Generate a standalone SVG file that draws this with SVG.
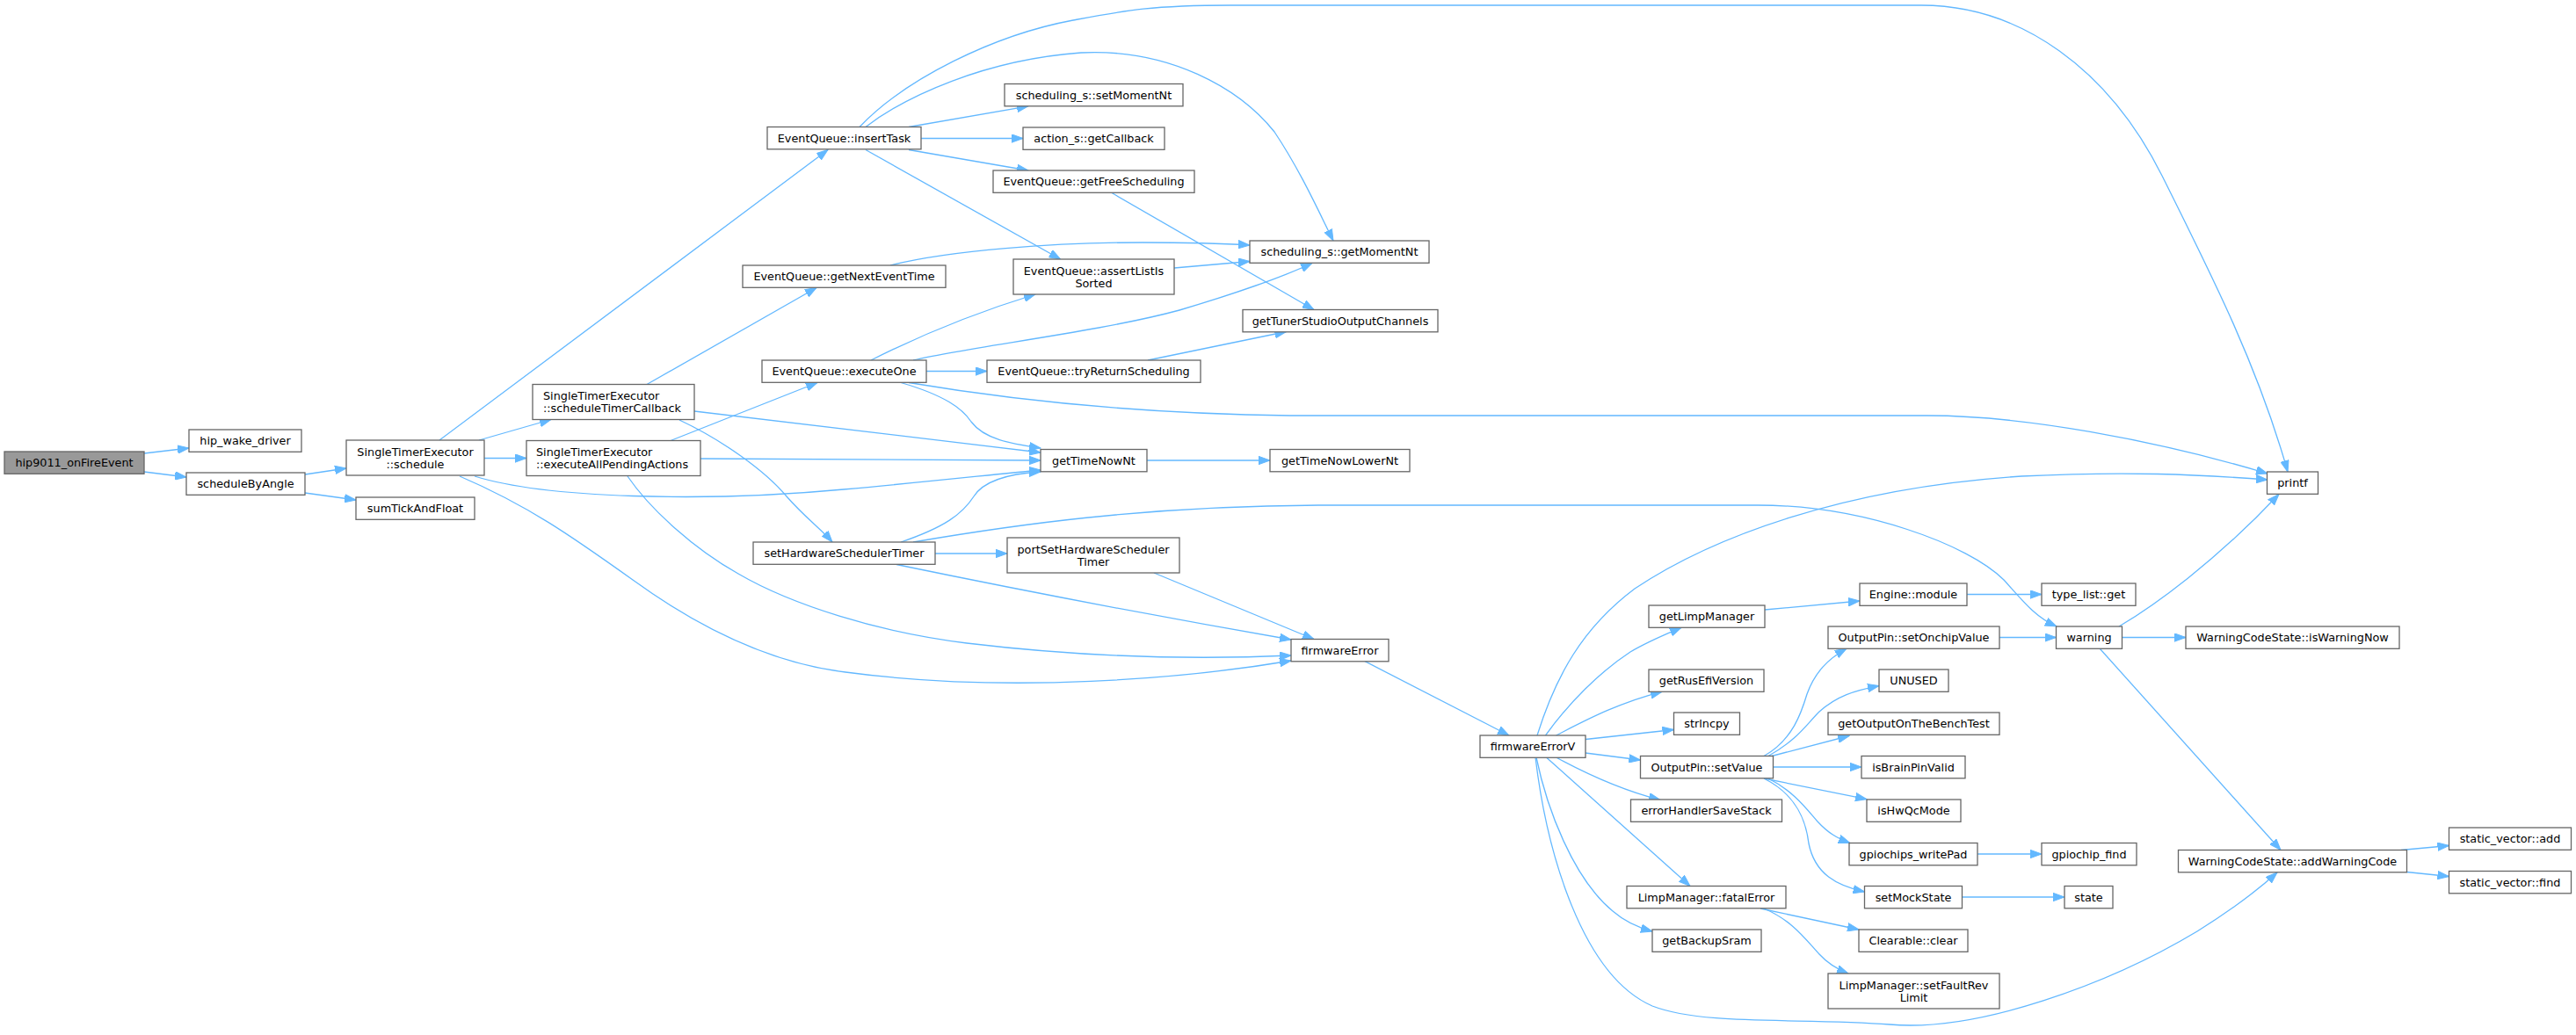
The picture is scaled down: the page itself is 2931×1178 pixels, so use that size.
<svg xmlns="http://www.w3.org/2000/svg" width="2931" height="1178" viewBox="0 0 2931 1178">
<style>
.n rect{fill:#ffffff;stroke:#666666;stroke-width:1.3}
.n.hl rect{fill:#999999}
.n text{font-family:"DejaVu Sans","Liberation Sans",sans-serif;font-size:12.8px;fill:#000000;text-anchor:middle}
.n text.l{text-anchor:start}
#edges path{fill:none;stroke:#63b8ff;stroke-width:1.3;marker-end:url(#ah)}
</style>
<defs>
<marker id="ah" markerUnits="userSpaceOnUse" markerWidth="14" markerHeight="10" viewBox="0 0 14 10" refX="13" refY="5" orient="auto">
<path d="M0,0.3 L13,5 L0,9.7 z" fill="#63b8ff" stroke="#63b8ff" stroke-width="1"/>
</marker>
</defs>
<rect x="0" y="0" width="2931" height="1178" fill="#ffffff"/>
<g id="edges">
<path d="M164,516 L215,510"/>
<path d="M164,537 L212,543"/>
<path d="M347,540 L394,533"/>
<path d="M347,561 L405,569"/>
<path d="M500,501 L942,170.5"/>
<path d="M545,501 L627,477.5"/>
<path d="M551,521.5 L599,521.5"/>
<path d="M540,542 C620,567 800,572 960,557 C1060,548 1130,540 1184,535"/>
<path d="M790,468 L1184,515"/>
<path d="M797,522 L1184,524"/>
<path d="M1025,435.5 C1075,450 1095,465 1105,480 C1120,500 1150,505 1184,510"/>
<path d="M1025,617 C1075,600 1095,585 1108,565 C1120,546 1150,539 1184,537"/>
<path d="M523,542 C600,575 650,610 720,660 C800,718 880,755 962,765 C1150,790 1350,772 1469,752"/>
<path d="M714,542 C740,580 790,625 840,653 C900,688 1000,720 1100,732 C1250,750 1380,750 1469,746"/>
<path d="M1020,642.5 Q1250,690 1469,728"/>
<path d="M1064,630 L1146,630"/>
<path d="M1313,652 L1495,727.5"/>
<path d="M1039,617 C1150,598 1300,576 1500,575 L2000,575 C2120,575 2240,620 2280,660 C2300,682 2315,702 2340,713"/>
<path d="M736,437.5 L929,327.5"/>
<path d="M773,478 C820,500 870,535 895,565 C915,588 935,603 947,617"/>
<path d="M763,501.5 L930,435.5"/>
<path d="M1054,422.5 L1123,422.5"/>
<path d="M991,410 Q1080,365 1178,335"/>
<path d="M1039,410 C1100,395 1250,378 1342,353 C1400,336 1460,315 1493,299.5"/>
<path d="M1034,435.5 C1150,455 1300,471 1468,473 L2194,473 C2300,473 2450,500 2580,539"/>
<path d="M1306,410 L1463.5,377.5"/>
<path d="M1265,219.5 L1495,352.5"/>
<path d="M1013,302 C1080,285 1200,276 1300,276 C1350,276 1390,277 1422,279"/>
<path d="M1336,305 L1422,297.5"/>
<path d="M985,144.5 C1030,110 1120,68 1230,60 C1330,55 1410,100 1450,150 C1480,195 1500,240 1517,274"/>
<path d="M978,144.5 C1030,90 1130,40 1221,23 C1280,12 1310,6 1400,6 L2186,6 C2300,6 2400,80 2460,200 C2520,320 2570,420 2603,537"/>
<path d="M1034,144.5 L1170,120.8"/>
<path d="M1048,157.5 L1164,157.5"/>
<path d="M1034,170.5 L1170,194"/>
<path d="M985,170.5 L1206.6,295"/>
<path d="M1305,524 L1445,524"/>
<path d="M1553,752.7 L1717,837"/>
<path d="M1749,837 C1770,770 1800,715 1860,670 C1950,610 2100,555 2300,542 C2420,536 2500,540 2580,546"/>
<path d="M1758.5,837 C1785,800 1820,765 1855,742 C1875,730 1895,722 1913,714.3"/>
<path d="M1770.5,837 C1800,822 1840,800 1891,787.3"/>
<path d="M1804,841.5 L1904.5,830.5"/>
<path d="M1804,857 L1866.5,865"/>
<path d="M1770.5,862 C1800,878 1840,898 1889,910.5"/>
<path d="M1759.4,862 L1923,1008.5"/>
<path d="M1748,862 C1760,920 1790,1000 1835,1037 C1850,1050 1865,1056 1880,1060"/>
<path d="M1747,862 C1760,970 1800,1110 1880,1145 C1940,1168 2050,1158 2150,1166 C2250,1175 2400,1120 2500,1060 C2540,1035 2570,1012 2591,993"/>
<path d="M2008,694 L2116,684"/>
<path d="M2238,676.5 L2323,676.5"/>
<path d="M2007,860.5 C2040,842 2050,810 2056,790 C2065,765 2080,750 2101,738.3"/>
<path d="M2012,860.5 C2045,842 2055,825 2070,810 C2090,792 2110,786 2138,780.6"/>
<path d="M2016,860.5 L2104,837.5"/>
<path d="M2017,873 L2118,873"/>
<path d="M2007,886 L2124,909.6"/>
<path d="M2012,886 C2040,900 2055,920 2068,935 C2080,948 2090,954 2105,959.5"/>
<path d="M2007,886 C2045,905 2055,935 2058,960 C2065,995 2090,1008 2121.5,1015"/>
<path d="M2275,725.5 L2339.5,725.5"/>
<path d="M2250,972 L2323,972"/>
<path d="M2232.5,1021 L2349,1021"/>
<path d="M2003,1034 L2115,1058"/>
<path d="M2007,1034 C2040,1048 2055,1070 2070,1086 C2080,1097 2090,1103 2103,1108"/>
<path d="M2411,713 C2450,690 2520,640 2593,562.5"/>
<path d="M2414.5,725.5 L2487,725.5"/>
<path d="M2389,738 L2595,967.5"/>
<path d="M2732,967.5 L2786.5,962.5"/>
<path d="M2738.5,992.5 L2786.5,997.5"/>
</g>
<g id="node-hip9011_onFireEvent" class="n hl"><rect x="5" y="514" width="159" height="25.3"/><text x="84.5" y="531.2">hip9011_onFireEvent</text></g>
<g id="node-hip_wake_driver" class="n"><rect x="215" y="489" width="128" height="25.3"/><text x="279" y="506.2">hip_wake_driver</text></g>
<g id="node-scheduleByAngle" class="n"><rect x="212" y="538" width="135" height="25.3"/><text x="279.5" y="555.2">scheduleByAngle</text></g>
<g id="node-SingleTimerExecutor_schedule" class="n"><rect x="394" y="501" width="157" height="40"/><text x="472.5" y="518.5">SingleTimerExecutor</text><text x="472.5" y="532.5">::schedule</text></g>
<g id="node-sumTickAndFloat" class="n"><rect x="405" y="566" width="135" height="25.3"/><text x="472.5" y="583.2">sumTickAndFloat</text></g>
<g id="node-EventQueue_insertTask" class="n"><rect x="873" y="144.5" width="175" height="25.3"/><text x="960.5" y="161.7">EventQueue::insertTask</text></g>
<g id="node-EventQueue_getNextEventTime" class="n"><rect x="845" y="302" width="231" height="25.3"/><text x="960.5" y="319.2">EventQueue::getNextEventTime</text></g>
<g id="node-SingleTimerExecutor_scheduleTimerCallback" class="n"><rect x="606" y="437.5" width="184" height="40"/><text class="l" x="618" y="455">SingleTimerExecutor</text><text class="l" x="618" y="469">::scheduleTimerCallback</text></g>
<g id="node-SingleTimerExecutor_executeAllPendingActions" class="n"><rect x="599" y="501.5" width="198" height="40"/><text class="l" x="610" y="519">SingleTimerExecutor</text><text class="l" x="610" y="533">::executeAllPendingActions</text></g>
<g id="node-EventQueue_executeOne" class="n"><rect x="867" y="410" width="187" height="25.3"/><text x="960.5" y="427.2">EventQueue::executeOne</text></g>
<g id="node-setHardwareSchedulerTimer" class="n"><rect x="857" y="617" width="207" height="25.3"/><text x="960.5" y="634.2">setHardwareSchedulerTimer</text></g>
<g id="node-scheduling_s_setMomentNt" class="n"><rect x="1143" y="95.5" width="203" height="25.3"/><text x="1244.5" y="112.7">scheduling_s::setMomentNt</text></g>
<g id="node-action_s_getCallback" class="n"><rect x="1164" y="145" width="161" height="25.3"/><text x="1244.5" y="162.2">action_s::getCallback</text></g>
<g id="node-EventQueue_getFreeScheduling" class="n"><rect x="1130" y="194" width="229" height="25.3"/><text x="1244.5" y="211.2">EventQueue::getFreeScheduling</text></g>
<g id="node-scheduling_s_getMomentNt" class="n"><rect x="1422" y="274" width="204" height="25.3"/><text x="1524" y="291.2">scheduling_s::getMomentNt</text></g>
<g id="node-EventQueue_assertListIsSorted" class="n"><rect x="1153" y="295" width="183" height="40"/><text x="1244.5" y="312.5">EventQueue::assertListIs</text><text x="1244.5" y="326.5">Sorted</text></g>
<g id="node-getTunerStudioOutputChannels" class="n"><rect x="1414" y="352.5" width="222" height="25.3"/><text x="1525" y="369.7">getTunerStudioOutputChannels</text></g>
<g id="node-EventQueue_tryReturnScheduling" class="n"><rect x="1123" y="410" width="243" height="25.3"/><text x="1244.5" y="427.2">EventQueue::tryReturnScheduling</text></g>
<g id="node-getTimeNowNt" class="n"><rect x="1184" y="511.5" width="121" height="25.3"/><text x="1244.5" y="528.7">getTimeNowNt</text></g>
<g id="node-getTimeNowLowerNt" class="n"><rect x="1445" y="511.5" width="159" height="25.3"/><text x="1524.5" y="528.7">getTimeNowLowerNt</text></g>
<g id="node-portSetHardwareSchedulerTimer" class="n"><rect x="1146" y="612" width="196" height="40"/><text x="1244" y="629.5">portSetHardwareScheduler</text><text x="1244" y="643.5">Timer</text></g>
<g id="node-firmwareError" class="n"><rect x="1469" y="727.5" width="111" height="25.3"/><text x="1524.5" y="744.7">firmwareError</text></g>
<g id="node-firmwareErrorV" class="n"><rect x="1684" y="837" width="120" height="25.3"/><text x="1744" y="854.2">firmwareErrorV</text></g>
<g id="node-getLimpManager" class="n"><rect x="1876" y="689" width="132" height="25.3"/><text x="1942" y="706.2">getLimpManager</text></g>
<g id="node-Engine_module" class="n"><rect x="2116" y="664" width="122" height="25.3"/><text x="2177" y="681.2">Engine::module</text></g>
<g id="node-type_list_get" class="n"><rect x="2323" y="664" width="107" height="25.3"/><text x="2376.5" y="681.2">type_list::get</text></g>
<g id="node-OutputPin_setOnchipValue" class="n"><rect x="2080" y="713" width="195" height="25.3"/><text x="2177.5" y="730.2">OutputPin::setOnchipValue</text></g>
<g id="node-warning" class="n"><rect x="2339.5" y="713" width="75" height="25.3"/><text x="2377" y="730.2">warning</text></g>
<g id="node-WarningCodeState_isWarningNow" class="n"><rect x="2487" y="713" width="243" height="25.3"/><text x="2608.5" y="730.2">WarningCodeState::isWarningNow</text></g>
<g id="node-printf" class="n"><rect x="2579.5" y="537" width="58" height="25.3"/><text x="2608.5" y="554.2">printf</text></g>
<g id="node-getRusEfiVersion" class="n"><rect x="1876" y="762" width="131" height="25.3"/><text x="1941.5" y="779.2">getRusEfiVersion</text></g>
<g id="node-UNUSED" class="n"><rect x="2138" y="762" width="79" height="25.3"/><text x="2177.5" y="779.2">UNUSED</text></g>
<g id="node-strlncpy" class="n"><rect x="1904.5" y="811" width="75" height="25.3"/><text x="1942" y="828.2">strlncpy</text></g>
<g id="node-getOutputOnTheBenchTest" class="n"><rect x="2080" y="811" width="195" height="25.3"/><text x="2177.5" y="828.2">getOutputOnTheBenchTest</text></g>
<g id="node-OutputPin_setValue" class="n"><rect x="1866.5" y="860.5" width="151" height="25.3"/><text x="1942" y="877.7">OutputPin::setValue</text></g>
<g id="node-isBrainPinValid" class="n"><rect x="2118" y="860.5" width="118" height="25.3"/><text x="2177" y="877.7">isBrainPinValid</text></g>
<g id="node-errorHandlerSaveStack" class="n"><rect x="1855.5" y="910" width="172" height="25.3"/><text x="1941.5" y="927.2">errorHandlerSaveStack</text></g>
<g id="node-isHwQcMode" class="n"><rect x="2124" y="910" width="107" height="25.3"/><text x="2177.5" y="927.2">isHwQcMode</text></g>
<g id="node-gpiochips_writePad" class="n"><rect x="2104" y="959.5" width="146" height="25.3"/><text x="2177" y="976.7">gpiochips_writePad</text></g>
<g id="node-gpiochip_find" class="n"><rect x="2323" y="959.5" width="108" height="25.3"/><text x="2377" y="976.7">gpiochip_find</text></g>
<g id="node-LimpManager_fatalError" class="n"><rect x="1851" y="1008.5" width="181" height="25.3"/><text x="1941.5" y="1025.7">LimpManager::fatalError</text></g>
<g id="node-setMockState" class="n"><rect x="2121.5" y="1008.5" width="111" height="25.3"/><text x="2177" y="1025.7">setMockState</text></g>
<g id="node-state" class="n"><rect x="2349" y="1008.5" width="55" height="25.3"/><text x="2376.5" y="1025.7">state</text></g>
<g id="node-getBackupSram" class="n"><rect x="1880" y="1058" width="124" height="25.3"/><text x="1942" y="1075.2">getBackupSram</text></g>
<g id="node-Clearable_clear" class="n"><rect x="2115" y="1058" width="124" height="25.3"/><text x="2177" y="1075.2">Clearable::clear</text></g>
<g id="node-LimpManager_setFaultRevLimit" class="n"><rect x="2080" y="1108" width="195" height="40"/><text x="2177.5" y="1125.5">LimpManager::setFaultRev</text><text x="2177.5" y="1139.5">Limit</text></g>
<g id="node-WarningCodeState_addWarningCode" class="n"><rect x="2478.5" y="967.5" width="260" height="25.3"/><text x="2608.5" y="984.7">WarningCodeState::addWarningCode</text></g>
<g id="node-static_vector_add" class="n"><rect x="2786.5" y="942" width="139" height="25.3"/><text x="2856" y="959.2">static_vector::add</text></g>
<g id="node-static_vector_find" class="n"><rect x="2786.5" y="991.5" width="139" height="25.3"/><text x="2856" y="1008.7">static_vector::find</text></g>
</svg>
